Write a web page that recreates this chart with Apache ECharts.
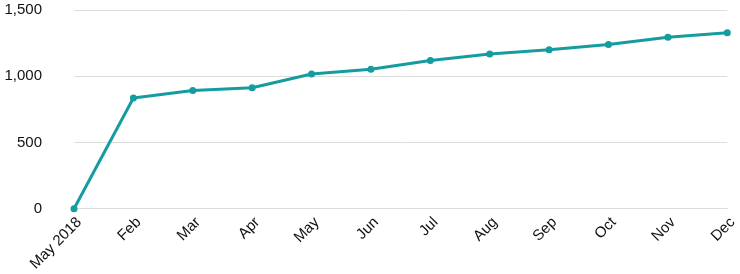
<!DOCTYPE html>
<html>
<head>
<meta charset="utf-8">
<script src="https://cdn.jsdelivr.net/npm/echarts@6/dist/echarts.min.js"></script>
<style>html,body{margin:0;padding:0;background:#fff}#c{width:740px;height:274px}</style>
</head>
<body>
<div id="c"></div>
<script>
const categories = ['May 2018','Feb','Mar','Apr','May','Jun','Jul','Aug','Sep','Oct','Nov','Dec'];
const values = [0, 836, 892, 913, 1017, 1052, 1118, 1167, 1200, 1240, 1294, 1328];
const yTicks = [0, 500, 1000, 1500];

const chart = echarts.init(document.getElementById('c'), null, {renderer:'canvas'});
chart.setOption({
  animation: false,
  grid: {left: 74, right: 9, top: 10, bottom: 65, containLabel: false},
  xAxis: {
    type: 'category',
    data: categories,
    boundaryGap: false,
    axisLine: {show: true, lineStyle: {color: '#dddddd', width: 1}},
    axisTick: {show: false},
    axisLabel: {rotate: 45, color: '#111', fontSize: 15, fontFamily: 'Liberation Sans, Arial, sans-serif',
      margin: 6, interval: 0, verticalAlign: 'top'}
  },
  yAxis: {
    type: 'value',
    min: yTicks[0], max: yTicks[yTicks.length-1], interval: 500,
    axisLine: {show: false},
    axisTick: {show: false},
    splitLine: {lineStyle: {color: '#dddddd', width: 1}},
    axisLabel: {color: '#111', fontSize: 15, fontFamily: 'Liberation Sans, Arial, sans-serif', margin: 32,
      formatter: v => v.toLocaleString('en-US')}
  },
  series: [{
    type: 'line',
    data: values,
    symbol: 'circle',
    symbolSize: 7,
    lineStyle: {color: '#159ca0', width: 3},
    itemStyle: {color: '#159ca0'}
  }]
});
</script>
</body>
</html>
